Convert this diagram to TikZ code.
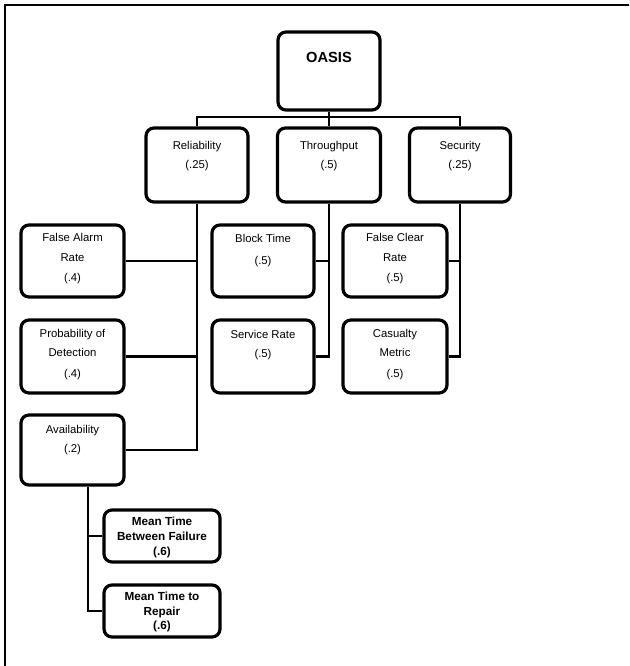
\documentclass[tikz,border=0pt]{standalone}
\usepackage{fontspec}
\setmainfont{Liberation Sans}
\begin{document}
\begin{tikzpicture}[x=0.75pt,y=-0.75pt,
  box/.style={draw=black,line width=2.4pt,rounded corners=6pt,inner sep=0pt,fill=white},
  lbl/.style={align=center,inner sep=0pt,font=\fontsize{8.5}{14.25}\selectfont},
  slbl/.style={align=center,inner sep=0pt,font=\fontsize{8.8}{11}\selectfont\bfseries},
  wire/.style={draw=black,line width=1.6pt}]
\useasboundingbox (0,0) rectangle (629,666);
\draw[line width=2pt] (629,5) -- (5,5) -- (5,666);
% boxes
\node[box,minimum width=76.5pt,minimum height=58.5pt] (oasis) at (329,71) {};
\node[box,minimum width=76.5pt,minimum height=55.5pt] (rel) at (197,165) {};
\node[box,minimum width=77.25pt,minimum height=55.5pt] (thr) at (329,165) {};
\node[box,minimum width=75.75pt,minimum height=55.5pt] (sec) at (460,165) {};
\node[box,minimum width=77.25pt,minimum height=54pt] (far) at (72.5,261) {};
\node[box,minimum width=76.5pt,minimum height=54pt] (bt) at (263,261) {};
\node[box,minimum width=78pt,minimum height=54pt] (fcr) at (395,261) {};
\node[box,minimum width=77.25pt,minimum height=54.75pt] (pod) at (72.5,356.5) {};
\node[box,minimum width=76.5pt,minimum height=54.75pt] (sr) at (263,356.5) {};
\node[box,minimum width=78pt,minimum height=54.75pt] (cm) at (395,356.5) {};
\node[box,minimum width=77.25pt,minimum height=52.5pt] (av) at (72.5,450) {};
\node[box,minimum width=87pt,minimum height=39pt] (mtbf) at (162,536) {};
\node[box,minimum width=87pt,minimum height=39pt] (mttr) at (162,611) {};
% texts
\node[inner sep=0pt,font=\fontsize{11}{13}\selectfont\bfseries] (oasist) at (329,57) {OASIS};
\node[lbl] (relt) at (197,156.5) {Reliability\\(.25)};
\node[lbl] (thrt) at (329,156.5) {Throughput\\(.5)};
\node[lbl] (sect) at (460,156.5) {Security\\(.25)};
\node[lbl] (fart) at (72.5,259) {False Alarm\\[0.75pt]Rate\\[0.75pt](.4)};
\node[lbl] (btt) at (263,250.5) {Block Time\\[2.5pt](.5)};
\node[lbl] (fcrt) at (395,259) {False Clear\\[0.75pt]Rate\\[0.75pt](.5)};
\node[lbl] (podt) at (72.5,354.5) {Probability of\\Detection\\[1.5pt](.4)};
\node[lbl] (srt) at (263,345.5) {Service Rate\\(.5)};
\node[lbl] (cmt) at (395,354.5) {Casualty\\Metric\\[1.5pt](.5)};
\node[lbl] (avt) at (72.5,440) {Availability\\(.2)};
\node[slbl] (mtbft) at (162,537.5) {Mean Time\\Between Failure\\(.6)};
\node[slbl] (mttrt) at (162,612) {Mean Time to\\Repair\\(.6)};
% connectors
\coordinate (bus) at (329,117);
\draw[wire] (oasis.south) -- (thr.north);
\draw[wire] (bus) -| (rel.north);
\draw[wire] (bus) -| (sec.north);
\draw[wire] (rel.south) |- (av.east);
\draw[wire] (far.east) -- (far.east -| rel.south);
\draw[wire] (pod.east) -- (pod.east -| rel.south);
\draw[wire] (thr.south) |- (sr.east);
\draw[wire] (bt.east) -- (bt.east -| thr.south);
\draw[wire] (sec.south) |- (cm.east);
\draw[wire] (fcr.east) -- (fcr.east -| sec.south);
\coordinate (avdrop) at ([xshift=11.6pt]av.south);
\draw[wire] (avdrop) |- (mttr.west);
\draw[wire] (mtbf.west) -- (mtbf.west -| avdrop);
\end{tikzpicture}
\end{document}
